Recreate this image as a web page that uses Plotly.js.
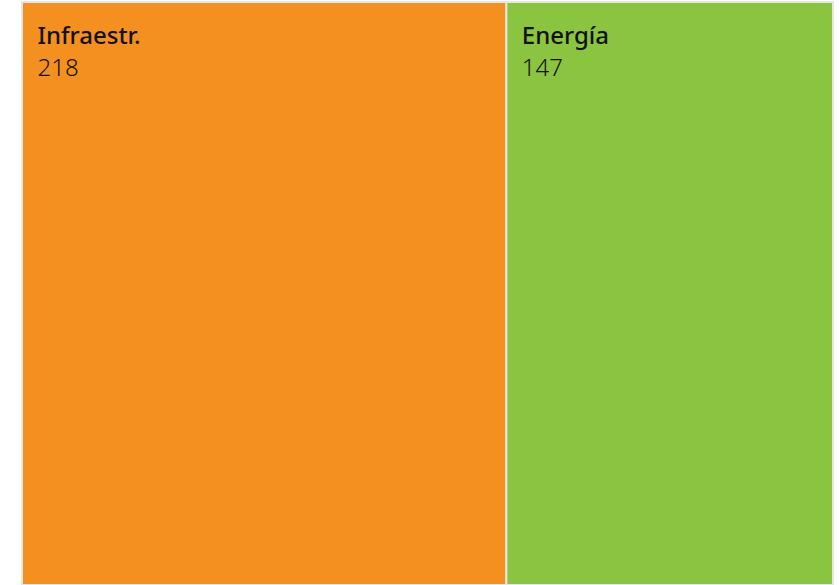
<!DOCTYPE html>
<html>
<head>
<meta charset="utf-8">
<script src="https://cdn.plot.ly/plotly-3.0.1.min.js"></script>
<style>html,body{margin:0;padding:0;background:#fff;}#chart{width:839px;height:585px;}</style>
</head>
<body>
<div id="chart"></div>
<script>
const labels = ["Infraestr.", "Energía"];
const values = [218, 147];
const colors = ["#f39020", "#8bc441"];

const spacer = "<span style='font-size:14px'>&nbsp;</span>";
const trace = {
  type: "treemap",
  labels: labels,
  parents: ["", ""],
  values: values,
  marker: {colors: colors, line: {color: "#e6e6e6", width: 2}, pad: {t: 0, l: 0, r: 0, b: 0}},
  pathbar: {visible: false},
  texttemplate: spacer + "<br>&nbsp;<br>&nbsp;<br><span style='font-size:24px;font-weight:500'>&nbsp;&nbsp;%{label}</span><br>&nbsp;<br>&nbsp;<br>&nbsp;<br><span style='font-size:24px;font-weight:300'>&nbsp;&nbsp;%{value}</span>",
  textposition: "top left",
  textfont: {family: "Noto Sans, sans-serif", size: 6.15, color: "#111"},
  sort: false,
  hoverinfo: "label+value",
  tiling: {pad: 0}
};

const layout = {
  width: 839, height: 585,
  margin: {l: 22, r: 6, t: 2, b: 0},
  paper_bgcolor: "#ffffff",
  showlegend: false
};

Plotly.newPlot("chart", [trace], layout, {displayModeBar: false});
</script>
</body>
</html>
